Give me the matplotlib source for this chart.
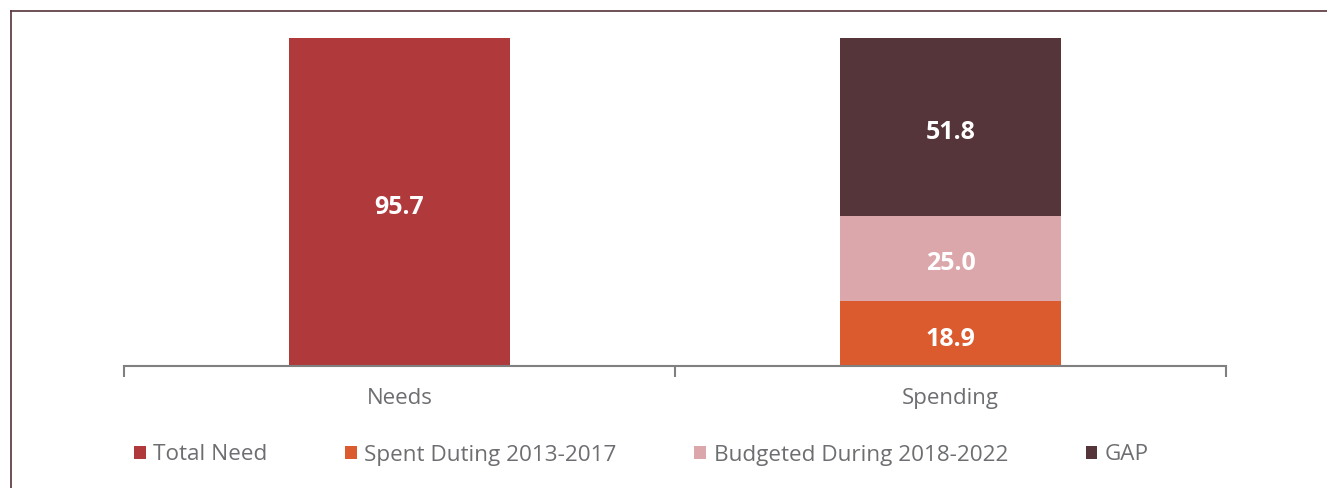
import matplotlib
matplotlib.use('Agg')
import matplotlib.pyplot as plt
from matplotlib.lines import Line2D
import numpy as np

# data
categories = ['Needs', 'Spending']
series_names = ['Total Need', 'Spent Duting 2013-2017', 'Budgeted During 2018-2022', 'GAP']
total_need = [95.7, 0.0]
spent = [0.0, 18.9]
budgeted = [0.0, 25.0]
gap = [0.0, 51.8]
colors = ['#B0393B', '#DC5B2E', '#DBA7AA', '#55343A']

plt.rcParams['font.family'] = ['Open Sans', 'DejaVu Sans']
text_gray = '#6D6E71'
axis_gray = '#808080'

fig = plt.figure(figsize=(13.27, 4.88), dpi=100)
ax = fig.add_axes([124/1327, 1 - 366/488, (1226 - 124)/1327, (366 - 38)/488])

x = np.arange(len(categories))
width = 0.4
series = [total_need, spent, budgeted, gap]
bottom = np.zeros(len(categories))
for name, vals, col in zip(series_names, series, colors):
    vals = np.array(vals)
    bars = ax.bar(x, vals, width, bottom=bottom, color=col, label=name)
    for xi, v, b in zip(x, vals, bottom):
        if v > 0:
            ax.text(xi, b + v / 2 - 1.6, f'{v:.1f}', ha='center', va='center',
                    color='white', fontsize=18, fontweight='bold')
    bottom = bottom + vals

ax.set_xlim(-0.5, 1.5)
ax.set_ylim(0, 95.7)
for s in ['top', 'right', 'left']:
    ax.spines[s].set_visible(False)
ax.spines['bottom'].set_color(axis_gray)
ax.spines['bottom'].set_linewidth(1.5)
ax.set_yticks([])
ax.set_xticks(x)
ax.set_xticklabels(categories, fontsize=16, color=text_gray)
ax.tick_params(axis='x', which='major', length=0, pad=16)
ax.set_xticks([-0.5, 0.5, 1.5], minor=True)
ax.tick_params(axis='x', which='minor', length=8, width=1.5, color=axis_gray, direction='out')

leg = fig.legend(loc='center left', bbox_to_anchor=(114/1327, 1 - 455/488), ncol=4, frameon=False,
                 fontsize=16.2, handlelength=0.5, handleheight=0.5, handletextpad=0.35,
                 columnspacing=3.45)
for t in leg.get_texts():
    t.set_color(text_gray)

# frame lines on top and left edges
fig.add_artist(Line2D([11/1327, 1], [1 - 11/488, 1 - 11/488], color='#55343A', lw=1.2))
fig.add_artist(Line2D([11/1327, 11/1327], [0, 1 - 11/488], color='#55343A', lw=1.2))

fig.savefig('out.png', dpi=100)
